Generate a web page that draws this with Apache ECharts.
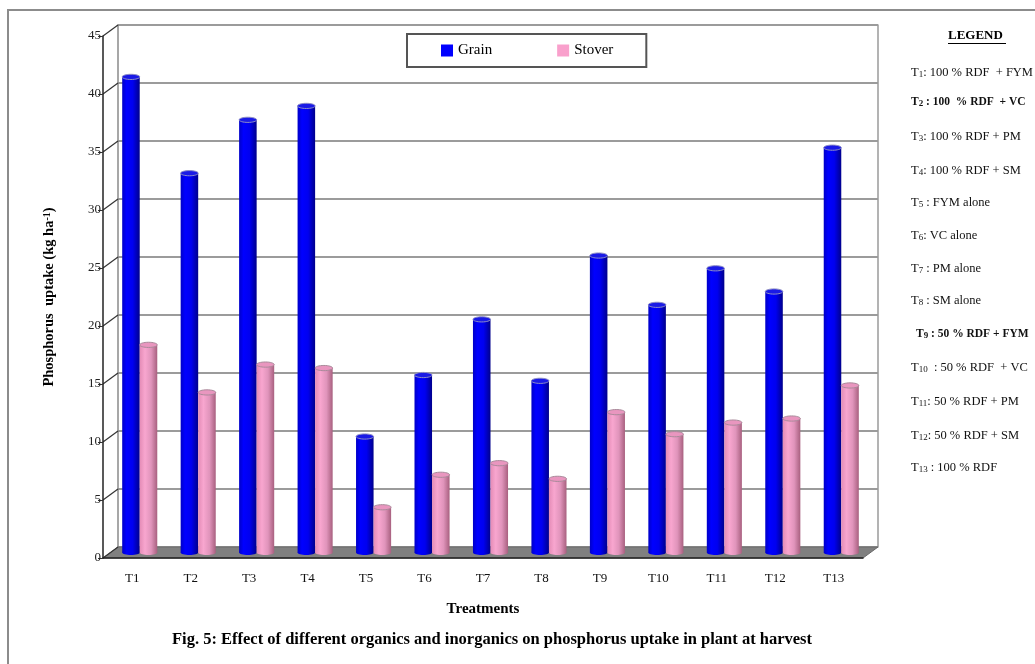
<!DOCTYPE html>
<html>
<head>
<meta charset="utf-8">
<script src="https://cdn.jsdelivr.net/npm/echarts@6/dist/echarts.min.js"></script>
<style>
  html, body { margin: 0; padding: 0; background: #fff; }
  #chart { width: 1035px; height: 664px; }
</style>
</head>
<body>
<div id="chart"></div>
<script>
// Phosphorus uptake (kg/ha) in grain and stover for each treatment
const treatments = ['T1', 'T2', 'T3', 'T4', 'T5', 'T6', 'T7', 'T8', 'T9', 'T10', 'T11', 'T12', 'T13'];
const grain  = [41.0, 32.7, 37.3, 38.5, 10.0, 15.3, 20.1, 14.8, 25.6, 21.35, 24.5, 22.5, 34.9];
const stover = [17.9, 13.8, 16.2, 15.9, 3.9, 6.7, 7.7, 6.35, 12.1, 10.2, 11.2, 11.55, 14.4];
const yTicks = [0, 5, 10, 15, 20, 25, 30, 35, 40, 45];

// Treatment key: subscript number, description, bold flag
const keyRows = [
  ['1', ': 100 % RDF  + FYM', false],
  ['2', ' : 100  % RDF  + VC', true],
  ['3', ': 100 % RDF + PM', false],
  ['4', ': 100 % RDF + SM', false],
  ['5', ' : FYM alone', false],
  ['6', ': VC alone', false],
  ['7', ' : PM alone', false],
  ['8', ' : SM alone', false],
  ['9', ' : 50 % RDF + FYM', true],
  ['10', '  : 50 % RDF  + VC', false],
  ['11', ': 50 % RDF + PM', false],
  ['12', ': 50 % RDF + SM', false],
  ['13', ' : 100 % RDF', false]
];
const keyRowY = [75, 105, 139, 173, 205, 238, 271, 303, 337, 370, 404, 438, 470];

const SERIF = "'Liberation Serif', 'Times New Roman', serif";
const DX = 15, DY = -11; // depth offset of the back wall

const chart = echarts.init(document.getElementById('chart'));

function cylinder(side, bodyStops, topFill, topStroke) {
  return function (params, api) {
    const cat = api.value(0);
    const val = api.value(1);
    const top = api.coord([cat, val]);
    const base = api.coord([cat, 0]);
    const band = api.size([1, 0])[0];
    const w = band * 0.3;
    const x0 = side < 0 ? top[0] - w : top[0];
    const grad = new echarts.graphic.LinearGradient(0, 0, 1, 0, bodyStops);
    return {
      type: 'group',
      children: [
        { type: 'ellipse', shape: { cx: x0 + w / 2, cy: base[1], rx: w / 2, ry: 2.5 }, style: { fill: grad } },
        { type: 'rect', shape: { x: x0, y: top[1], width: w, height: base[1] - top[1] }, style: { fill: grad } },
        { type: 'ellipse', shape: { cx: x0 + w / 2, cy: top[1], rx: w / 2, ry: 2.6 },
          style: { fill: topFill, stroke: topStroke, lineWidth: 1 } }
      ]
    };
  };
}

const blueStops = [
  { offset: 0, color: '#0000c8' },
  { offset: 0.25, color: '#0000ff' },
  { offset: 0.6, color: '#0000f0' },
  { offset: 1, color: '#00008c' }
];
const pinkStops = [
  { offset: 0, color: '#e48cb6' },
  { offset: 0.3, color: '#f8a6cf' },
  { offset: 0.65, color: '#e094bb' },
  { offset: 1, color: '#a8607f' }
];

const keyGraphics = [
  {
    type: 'text', left: 948, top: 29,
    style: { text: 'LEGEND', font: 'bold 13px ' + SERIF, fill: '#000' }
  },
  {
    type: 'line', shape: { x1: 948, y1: 43.5, x2: 1006, y2: 43.5 },
    style: { stroke: '#000', lineWidth: 1 }
  }
].concat(keyRows.map(function (r, i) {
  const indent = r[0] === '9' ? 5 : 0;
  const weight = r[2] ? 'bold' : 'normal';
  return {
    type: 'text', left: 911 + indent, top: keyRowY[i] - 9,
    style: {
      text: '{t|T}{s|' + r[0] + '}{t|' + r[1] + '}',
      rich: {
        t: { fontFamily: SERIF, fontSize: r[2] ? 11.5 : 12.5, fontWeight: weight, fill: '#111', lineHeight: 18, verticalAlign: 'bottom' },
        s: { fontFamily: SERIF, fontSize: 9, fontWeight: weight, fill: '#111', lineHeight: 18, verticalAlign: 'bottom' }
      }
    }
  };
}));

const option = {
  animation: false,
  backgroundColor: '#fff',
  textStyle: { fontFamily: SERIF },
  legend: {
    left: 407, top: 34,
    padding: [9, 33, 9, 34],
    itemGap: 65,
    itemWidth: 12, itemHeight: 12,
    borderColor: '#555', borderWidth: 2,
    backgroundColor: '#fff',
    textStyle: { fontFamily: SERIF, fontSize: 15, color: '#000' },
    data: [
      { name: 'Grain', icon: 'rect', itemStyle: { color: '#0000ff' } },
      { name: 'Stover', icon: 'rect', itemStyle: { color: '#f9a0cc' } }
    ]
  },
  grid: [
    { left: 118, top: 25, width: 760, height: 522 },       // back wall
    { left: 103, top: 36, width: 760, height: 522 },       // front plane with axes
    { left: 110.5, top: 30.5, width: 760, height: 522 }    // mid depth for columns
  ],
  xAxis: [
    { gridIndex: 0, type: 'category', data: treatments, show: false },
    {
      gridIndex: 1, type: 'category', data: treatments, z: 5,
      name: 'Treatments', nameLocation: 'middle', nameGap: 44,
      nameTextStyle: { fontFamily: SERIF, fontSize: 15, fontWeight: 'bold', color: '#000' },
      axisLine: { lineStyle: { color: '#222', width: 1.5 } },
      axisTick: { length: 8, lineStyle: { color: '#333' } },
      axisLabel: { margin: 14, fontFamily: SERIF, fontSize: 13, color: '#111' }
    },
    { gridIndex: 2, type: 'category', data: treatments, show: false }
  ],
  yAxis: [
    {
      gridIndex: 0, type: 'value', min: 0, max: 45, interval: 5,
      axisLine: { show: true, lineStyle: { color: '#8a8a8a', width: 1.5 } },
      axisTick: { show: false }, axisLabel: { show: false },
      splitLine: { lineStyle: { color: '#7a7a7a', width: 1.5 } }
    },
    {
      gridIndex: 0, type: 'value', min: 0, max: 45, interval: 5, position: 'right',
      axisLine: { show: true, lineStyle: { color: '#9a9a9a', width: 1.5 } },
      axisTick: { show: false }, axisLabel: { show: false }, splitLine: { show: false }
    },
    {
      gridIndex: 1, type: 'value', min: 0, max: 45, interval: 5, z: 5,
      name: 'Phosphorus  uptake (kg ha{sup|-1})', nameLocation: 'middle', nameGap: 46,
      nameTextStyle: {
        fontFamily: SERIF, fontSize: 14.5, fontWeight: 'bold', color: '#000',
        rich: { sup: { fontFamily: SERIF, fontSize: 10, fontWeight: 'bold', color: '#000', verticalAlign: 'top' } }
      },
      axisLine: { show: true, lineStyle: { color: '#222', width: 1.5 } },
      axisTick: { show: true, length: 5, lineStyle: { color: '#333' } },
      axisLabel: { margin: 2, fontFamily: SERIF, fontSize: 13, color: '#222' },
      splitLine: { show: false }
    },
    { gridIndex: 2, type: 'value', min: 0, max: 45, interval: 5, show: false, splitLine: { show: false } }
  ],
  graphic: [
    {
      type: 'rect', shape: { x: 8, y: 10, width: 1040, height: 670 },
      style: { fill: 'none', stroke: '#8c8c8c', lineWidth: 2 }, z: -1
    },
    {
      type: 'text', left: 172, top: 631,
      style: {
        text: 'Fig. 5: Effect of different organics and inorganics on phosphorus uptake in plant at harvest',
        font: 'bold 16.5px ' + SERIF, fill: '#000'
      }
    }
  ].concat(keyGraphics),
  series: [
    {
      // floor of the plot box
      type: 'custom', name: 'floor', xAxisIndex: 1, yAxisIndex: 2, z: 1, silent: true,
      data: [[0, 0]],
      renderItem: function (params, api) {
        const cs = params.coordSys;
        const b = cs.y + cs.height;
        return {
          type: 'polygon',
          shape: { points: [[cs.x, b], [cs.x + cs.width, b], [cs.x + cs.width + DX, b + DY], [cs.x + DX, b + DY]] },
          style: { fill: '#808080', stroke: '#6a6a6a', lineWidth: 1 }
        };
      }
    },
    {
      // slanted connectors from front ticks to back-wall gridlines
      type: 'custom', name: 'depth', xAxisIndex: 1, yAxisIndex: 2, z: 2, silent: true,
      data: yTicks.map(function (v) { return [0, v]; }),
      renderItem: function (params, api) {
        const cs = params.coordSys;
        const p = api.coord([0, api.value(1)]);
        return {
          type: 'line',
          shape: { x1: cs.x, y1: p[1], x2: cs.x + DX, y2: p[1] + DY },
          style: { stroke: '#333', lineWidth: 1.2 }
        };
      }
    },
    {
      type: 'custom', name: 'Grain', xAxisIndex: 2, yAxisIndex: 3, z: 3,
      itemStyle: { color: '#0000ff' },
      encode: { x: 0, y: 1 },
      data: grain.map(function (v, i) { return [i, v]; }),
      renderItem: cylinder(-1, blueStops, '#1a1ae6', '#8d8dc4')
    },
    {
      type: 'custom', name: 'Stover', xAxisIndex: 2, yAxisIndex: 3, z: 3,
      itemStyle: { color: '#f9a0cc' },
      encode: { x: 0, y: 1 },
      data: stover.map(function (v, i) { return [i, v]; }),
      renderItem: cylinder(1, pinkStops, '#e996bf', '#a98a9a')
    }
  ]
};

chart.setOption(option);
</script>
</body>
</html>
